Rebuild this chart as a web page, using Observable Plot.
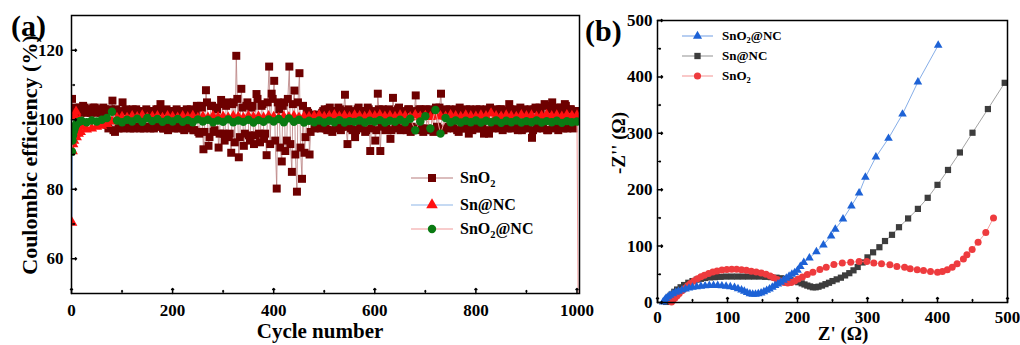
<!DOCTYPE html>
<html><head><meta charset="utf-8">
<script src="https://cdn.jsdelivr.net/npm/d3@7"></script>
<script src="https://cdn.jsdelivr.net/npm/@observablehq/plot@0.6"></script>
<style>
body{margin:0;background:#fff;}
#wrap{position:relative;width:1020px;height:345px;overflow:hidden;}
.pane{position:absolute;top:0;}
</style></head><body><div id="wrap"></div>
<script>
// ---------- Panel (a): Coulombic efficiency vs cycle ----------
// SnO2 read at cycles 1,6,11,... (set A) and 3,8,13,... (set B)
const sno2StartA = 1, sno2StartB = 3, sno2Step = 5;
const sno2CE_A = [
106,103,102,103.5,102.5,103.5,102,103,102.5,103.5,102,103,102.5,103,98.5,102.5,105.5,96.5,102,98,
105,98,102.5,97.5,103,98,102.5,97.5,102.5,98,102,97.5,102.5,98,103,104.5,97.5,102.5,97,102.5,
98,102,97.5,102.5,97.5,102,98,103,97,102.5,96.5,104,91.5,108.5,92.5,104,96.5,103.5,92,105.7,
96,104,95,90.5,105,118.4,89.2,108.9,92.5,104,95.5,103.5,93,107.4,96,104,94.5,89.8,115.3,107.5,
111.2,80.2,103,88,105,94,115.3,85,108.4,79.3,113.4,83,90.5,102.5,90,101.5,97.5,101,98,102,
103,97,103.5,96.5,102.5,97.5,103,98,107.2,93,102.5,97,95,103,97.5,102.5,96.5,103.5,91,102,
94,107.5,91,103,97,102.5,94.5,106.3,97.5,103,97,102.5,98,103,96.5,102,107,97.5,103,96.5,
103,97,102.5,96.5,103.5,97.5,107.5,97,103,98,102.5,97.5,103,96.5,102,97.5,103,96,102.5,98,
103,97.5,102.5,96,103,96,102.5,98,103,97.5,103,98,102.5,104.5,97.5,103,98,102.5,97,103,
98,102.5,94.8,103,97.5,103.5,98,104.5,97,103,105,97.5,103.5,98,102.5,104.5,97.5,103,98,102.5];
const sno2CE_B = [
102.5,103.5,103,102,104,102.5,103,102,103.5,102.5,103,102,103.5,102.5,97.5,103,97,103,97.5,102.5,
97.5,103,98,102.5,97.5,103,98,102,97.5,103,98,102.5,97.5,103,98,102.5,97.5,103,98,102.5,
97.5,103,98,102.5,97,103,97.5,102.5,97,104,96,103.5,96.5,105,95,104,97,103,96,104.5,
94,105,96,104.5,93.5,106,95,103.5,96,105,94,104,95.5,106,93.5,104.5,96,105,93,106,
94,105,92,104,91,106,93,104.5,90,105,92,104,95,102,96.5,101,98,101.5,97.5,102.5,
97.5,103,97,102.5,98,103.5,97,102.5,98,103,97.5,102,97,103.5,98,102.5,97,103,97.5,102.5,
97,103,98,102.5,97.5,103,97,102.5,98,103.5,97.5,102,97,103,98,102.5,97,103,97.5,102.5,
97.5,103,97,102.5,98,103.5,97,102.5,97.5,103,98,102,97,103.5,97.5,102.5,98,103,97,102.5,
97.5,103,98,102.5,97,103.5,97.5,102.5,98,103,97,102.5,97.5,103,98,102.5,97,103.5,97.5,102.5,
97.5,103,97,103.5,98,102.5,97.5,104,97,103,98,102.5,97,103.5,97.5,104,98,103,97.5,102.5];

const earlyCycles = [1,2,3,4,5,6,7,8,9,10,12,14,16,18,20];
const laterCycles = d3.range(30, 1001, 10);
const snncCE = [
70.4,91,93,95.5,94,97,101,96,102.3,95,99.5,96,100,96.5,98,
97.2,97.5,98,98.3,98.8,99.5,100.5,100.8,100.5,101,100.7,101.2,100.6,100.9,101,100.5,101,100.8,
100.6,101,100.7,101.1,100.5,100.9,100.6,101,100.7,100.9,100.6,101,100.8,100.5,101,100.7,100.9,100.6,101,100.8,
100.5,100.9,100.7,101,100.6,100.9,100.8,101,101.2,100.8,101,101.3,100.9,101.1,100.8,101.2,101,100.8,101.2,101,
101.3,100.9,101.1,100.8,101.2,101,100.7,101.3,100.9,101.1,100.8,101.2,101,100.9,101.3,101,100.8,101.2,101,100.9,
101.2,101,101.8,101,100.9,101.2,101,100.8,101.3,101,101.2,100.9,101.1,101.4,101,101.2,100.9,101.3,101.1,101.2];
const sno2ncCE = [
90.8,94,95.5,96.5,97,97.5,98,98.3,98.6,99,99.2,99.4,99.5,99.6,99.7,
99.3,99.8,99.5,100,100.5,102.3,99.8,99.3,100,99.5,100.3,99.4,100.5,99.6,100.2,99.4,100,99.5,
100.2,99.4,99.9,99.3,100.1,99.5,100,99.3,99.8,99.4,100.1,99.3,99.8,99.4,100,99.2,99.9,99.4,100.1,99.5,
100.2,99.3,100.4,99.4,100,99.2,99.7,99.3,99.8,99.2,99.7,99.3,99.9,99.2,99.6,99.4,99.8,99.2,99.7,99.4,
99.9,99.2,99.7,99.4,100,99.3,100.3,97,99.5,101,97.5,102.8,96,100.5,99.3,99.8,99.2,99.7,99.3,99.8,
99.2,99.7,99.3,99.8,99.1,99.7,99.3,99.8,99.2,99.6,99.3,99.8,99.2,99.6,99.3,99.7,99.1,99.6,99.3,99.5];
// final cycle: cell cut off (curve drops off the chart)
const endCycle = 1003, endCE = 30;

const aXTicks = [0,200,400,600,800,1000];
const aXMinor = [100,300,500,700,900];
const aYTicks = [60,80,100,120];
const aYMinor = [70,90,110];

// ---------- Panel (b): Nyquist plots ----------
const ncZre = [8,10,12,15,18,22,26,30,35,40,45,50,56,62,68,74,80,86,92,98,104,110,115,120,124,128,132,136,140,144,148,152,156,160,164,168,172,176,180,184,188,192,196,200,204,209,217,227,237,248,254,265,277,288,297,312,330,350,372,401];
const ncZim = [1,4,7,10,13,15.5,18,20,22,24,25.5,27,28,29,29.5,30,30,30,29.5,29,28,26.5,24.5,22,20,17.5,15.5,14.5,14.5,15.5,17,19,21.5,24,27,30,33,36,39.5,43,46.5,50,53,57,64,71,79,90,102,118,130,148,171,194,222,258,291,334,391,456];
const snZre = [12,14,17,20,24,28,33,38,44,50,56,62,68,75,82,90,98,106,114,122,130,138,146,154,162,170,177,184,190,196,201,206,210,214,218,222,226,230,235,240,245,250,256,262,268,274,280,286,293,300,308,317,325,335,345,358,372,386,400,415,432,450,472,496];
const snZim = [1,5,10,14,19,23,27,31,35,38,40.5,42,43.5,44.5,45,45.5,46,46,46,46,46,46,46,45.5,45,44,43,41.5,40,38,36,34,32,30,28.5,27,27,28,30,32.5,35,38,41,44,48,52,57,63,71,80,89,98,109,120,133.5,149,166,185.6,208.6,235,266,301,343,389.5];
const oxZre = [20,22,25,28,31,35,39,43,47,52,57,62,67,73,79,85,92,99,106,113,120,127,134,141,148,155,161,166,171,176,181,186,191,196,201,207,214,222,232,241,252,264,276,288,299,309,320,332,342,353,361,371,380,390,400,407,414,421,428,437,442,449.5,458,469,480];
const oxZim = [1,4,8,12,16,21,25,29.5,33.5,38,42,45.5,48.5,51.5,54,56,57.5,58.5,59,58.8,58,57,55.5,54,52.5,50,47,44,41,38,35.5,34.5,35.5,38,41.5,45,49.6,53.7,58.5,62.6,67.4,70,71.5,72.7,72.7,70,68.6,67,64,62.6,59.7,58,56.7,55,53.7,55,58,62.6,68.6,77,84.5,94,107,124,150];
const bTicks = [0,100,200,300,400,500];
const bMinor = [50,150,250,350,450];

// ---------- build tables ----------
const sno2 = [
  ...sno2CE_A.map((v,i)=>({c: sno2StartA + i*sno2Step, v})),
  ...sno2CE_B.map((v,i)=>({c: sno2StartB + i*sno2Step, v}))
].sort((a,b)=>a.c-b.c);
const allCycles = [...earlyCycles, ...laterCycles];
const snnc = snncCE.map((v,i)=>({c: allCycles[i], v}));
const sno2nc = sno2ncCE.map((v,i)=>({c: allCycles[i], v}));
sno2nc.push({c: endCycle, v: endCE});
const bNC = ncZre.map((x,i)=>({x, y: ncZim[i]}));
const bSn = snZre.map((x,i)=>({x, y: snZim[i]}));
const bOx = oxZre.map((x,i)=>({x, y: oxZim[i]}));

const SERIF = '"Liberation Serif","Times New Roman",serif';
const C = {
  sno2Sq:"#6e0000", sno2Ln:"#b87c7c", snncTri:"#ff1010", snncLn:"#8db6e8", ncCirc:"#0a7a12", ncLn:"#f29a9a",
  bBlue:"#1d62d6", bBlueLn:"#86aee8", bGray:"#3d3d3d", bGrayLn:"#a3a3a3", bRed:"#ee3b3e", bRedLn:"#f5a3a3"
};

function ticksMarks(xMaj, xMin, yMaj, yMin, x0, y0) {
  return [
    Plot.vector(xMaj, {x: d=>d, y: y0, length: 5, rotate: 0, anchor: "start", stroke: "black", strokeWidth: 1.5}),
    Plot.vector(xMin, {x: d=>d, y: y0, length: 3, rotate: 0, anchor: "start", stroke: "black", strokeWidth: 1.2}),
    Plot.vector(yMaj, {x: x0, y: d=>d, length: 5, rotate: 90, anchor: "start", stroke: "black", strokeWidth: 1.5}),
    Plot.vector(yMin, {x: x0, y: d=>d, length: 3, rotate: 90, anchor: "start", stroke: "black", strokeWidth: 1.2})
  ];
}

const A = Plot.plot({
  width: 590, height: 345, marginLeft: 71, marginRight: 11, marginTop: 15, marginBottom: 52,
  x: {domain: [0, 1005]}, y: {domain: [50, 130]},
  style: {fontFamily: SERIF, fontWeight: "bold", fontSize: "17px", color: "black", background: "transparent", overflow: "visible"},
  marks: [
    Plot.line(sno2, {x: "c", y: "v", stroke: C.sno2Ln, strokeWidth: 0.8, clip: true}),
    Plot.dot(sno2, {x: "c", y: "v", symbol: "square", r: 4.5, fill: C.sno2Sq, clip: true}),
    Plot.line(snnc, {x: "c", y: "v", stroke: C.snncLn, strokeWidth: 1, clip: true}),
    Plot.dot(snnc, {x: "c", y: "v", symbol: "triangle", r: 4, fill: C.snncTri, clip: true}),
    Plot.line(sno2nc, {x: "c", y: "v", stroke: C.ncLn, strokeWidth: 1, clip: true}),
    Plot.dot(sno2nc, {x: "c", y: "v", symbol: "circle", r: 4.2, fill: C.ncCirc, clip: true}),
    Plot.frame({stroke: "black", strokeWidth: 1.5}),
    Plot.axisX({ticks: aXTicks, tickSize: 0, tickPadding: 10, tickFormat: d => String(d), label: null}),
    Plot.axisY({ticks: aYTicks, tickSize: 0, tickPadding: 8, tickFormat: d => String(d), label: null}),
    ...ticksMarks(aXTicks, aXMinor, aYTicks, aYMinor, 0, 50)
  ]
});

const B = Plot.plot({
  width: 430, height: 345, marginLeft: 67, marginRight: 13, marginTop: 20, marginBottom: 43,
  x: {domain: [0, 500]}, y: {domain: [0, 500]},
  style: {fontFamily: SERIF, fontWeight: "bold", fontSize: "17px", color: "black", background: "transparent", overflow: "visible"},
  marks: [
    Plot.line(bSn, {x: "x", y: "y", stroke: C.bGrayLn, strokeWidth: 1}),
    Plot.dot(bSn, {x: "x", y: "y", symbol: "square", r: 3.5, fill: C.bGray}),
    Plot.line(bOx, {x: "x", y: "y", stroke: C.bRedLn, strokeWidth: 1}),
    Plot.dot(bOx, {x: "x", y: "y", symbol: "circle", r: 3.5, fill: C.bRed}),
    Plot.line(bNC, {x: "x", y: "y", stroke: C.bBlueLn, strokeWidth: 1}),
    Plot.dot(bNC, {x: "x", y: "y", symbol: "triangle", r: 3.2, fill: C.bBlue}),
    Plot.frame({stroke: "black", strokeWidth: 1.5}),
    Plot.axisX({ticks: bTicks, tickSize: 0, tickPadding: 8, tickFormat: d => String(d), label: null}),
    Plot.axisY({ticks: bTicks, tickSize: 0, tickPadding: 5, tickFormat: d => String(d), label: null}),
    ...ticksMarks(bTicks, bMinor, bTicks, bMinor, 0, 0)
  ]
});

const wrap = document.getElementById("wrap");
const pa = document.createElement("div"); pa.className = "pane"; pa.style.left = "0px"; pa.style.width = "590px"; pa.appendChild(A);
const pb = document.createElement("div"); pb.className = "pane"; pb.style.left = "590px"; pb.style.width = "430px"; pb.appendChild(B);
wrap.appendChild(pa); wrap.appendChild(pb);

// ---------- overlay: panel letters, axis titles and legends ----------
const ov = d3.select(wrap).append("svg").attr("width", 1020).attr("height", 345)
  .style("position", "absolute").style("left", "0px").style("top", "0px").style("pointer-events", "none")
  .style("font-family", SERIF).style("font-weight", "bold");
ov.append("text").attr("x", 11).attr("y", 36).attr("font-size", 30).text("(a)");
ov.append("text").attr("x", 585).attr("y", 41).attr("font-size", 30).text("(b)");

function title(txt, cx, cy, fs, rot) {
  ov.append("text").attr("transform", `translate(${cx},${cy}) rotate(${rot})`)
    .attr("text-anchor", "middle").attr("dy", "0.35em").attr("font-size", fs).text(txt);
}
title("Cycle number", 320, 331, 21, 0);
title("Coulombic efficiency (%)", 29, 155, 22, -90);
title("Z' (Ω)", 843, 333, 19, 0);
title("-Z'' (Ω)", 618, 143, 19, -90);

function label(sel, name, fs) {
  const parts = name.split("O2");
  if (parts.length > 1) {
    sel.append("tspan").text(parts[0] + "O");
    sel.append("tspan").attr("font-size", fs * 0.65).attr("dy", fs * 0.22).text("2");
    if (parts[1]) sel.append("tspan").attr("dy", -fs * 0.22).text(parts[1]);
  } else sel.text(name);
}
function sym(kind, size) {
  const t = {square: d3.symbolSquare, triangle: d3.symbolTriangle, circle: d3.symbolCircle}[kind];
  return d3.symbol(t, size)();
}
function legend(items, x0, lineLen, textGap, fs, symSize) {
  for (const it of items) {
    const g = ov.append("g").attr("transform", `translate(${x0},${it.cy})`);
    g.append("line").attr("x1", 0).attr("x2", lineLen).attr("y1", 0).attr("y2", 0).attr("stroke", it.ln).attr("stroke-width", 1.2);
    g.append("path").attr("d", sym(it.sym, symSize[it.sym])).attr("transform", `translate(${lineLen/2},0)`).attr("fill", it.fill);
    const t = g.append("text").attr("x", lineLen + textGap).attr("y", fs * 0.34).attr("font-size", fs);
    label(t, it.name, fs);
  }
}
legend([
  {name: "SnO2", sym: "square", fill: C.sno2Sq, ln: C.sno2Ln, cy: 178},
  {name: "Sn@NC", sym: "triangle", fill: C.snncTri, ln: C.snncLn, cy: 205},
  {name: "SnO2@NC", sym: "circle", fill: C.ncCirc, ln: C.ncLn, cy: 229}
], 411, 42, 7, 16, {square: 64, triangle: 58, circle: 55});
legend([
  {name: "SnO2@NC", sym: "triangle", fill: C.bBlue, ln: C.bBlueLn, cy: 36},
  {name: "Sn@NC", sym: "square", fill: C.bGray, ln: C.bGrayLn, cy: 56},
  {name: "SnO2", sym: "circle", fill: C.bRed, ln: C.bRedLn, cy: 76}
], 682, 31, 9, 13, {square: 40, triangle: 36, circle: 40});
</script></body></html>
